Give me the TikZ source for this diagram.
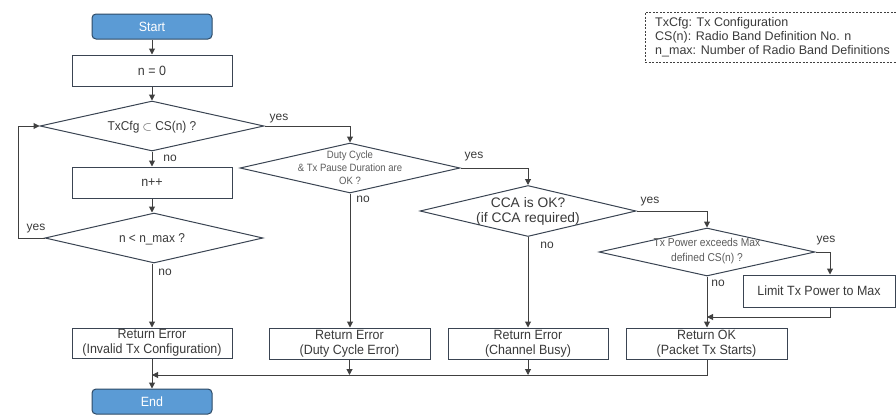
\documentclass[tikz,border=0pt]{standalone}
\usepackage{fontspec}
\setmainfont{Liberation Sans}
\newfontfamily\narrowfont[FakeStretch=0.9]{Liberation Sans}
\newfontfamily\boxfont[FakeStretch=0.93]{Liberation Sans}
\usetikzlibrary{shapes.geometric,arrows.meta}
\definecolor{ln}{HTML}{404040}
\definecolor{bx}{HTML}{3A4452}
\definecolor{tx}{HTML}{3A3A3A}
\definecolor{dtx}{HTML}{5C5C5C}
\definecolor{sfill}{HTML}{5B9BD5}
\definecolor{sbord}{HTML}{2E4A66}
\tikzset{
  box/.style={draw=bx, line width=1pt, fill=white, text=tx, font=\boxfont\fontsize{13.4}{15}\selectfont, align=center, inner sep=0pt, minimum width=160pt, minimum height=31pt},
  term/.style={draw=sbord, line width=1pt, fill=sfill, rounded corners=4pt, text=white, font=\boxfont\fontsize{13.4}{15}\selectfont, minimum width=120pt, minimum height=25pt, inner sep=0pt},
  dia/.style={diamond, draw=bx, line width=1pt, inner sep=0pt, fill=white},
  dtext/.style={text=tx, align=center, inner sep=0pt, font=\boxfont\fontsize{12.8}{15}\selectfont},
  ntext/.style={text=dtx, align=center, inner sep=0pt},
  arr/.style={draw=ln, line width=1pt, -{Triangle[length=6pt,width=6pt]}},
  ln/.style={draw=ln, line width=1pt},
  lbl/.style={text=tx, font=\fontsize{12}{14}\selectfont, inner sep=0pt}
}
\begin{document}
\begin{tikzpicture}[x=1pt,y=-1pt]
\useasboundingbox (0,0) rectangle (896,415);
% legend
\node[draw=ln, dashed, dash pattern=on 2pt off 1.5pt, line width=0.8pt, minimum width=251pt, minimum height=50pt, inner sep=0pt] (legend) at (770.5,37) {};
\node[anchor=west, align=left, text=tx, inner sep=0pt, font=\fontsize{12.5}{14}\selectfont] (legendt) at (655,37) {TxCfg: Tx Configuration\\CS(n): Radio Band Definition No. n\\n\_max: Number of Radio Band Definitions};
% left column
\node[term] (start) at (152,26.5) {Start};
\node[box] (n0) at (152,70.5) {n = 0};
\node[dia, minimum width=224pt, minimum height=50pt] (d1) at (152,126) {};
\node[dtext] (d1t) at (152,127) {TxCfg $\subset$ CS(n) ?};
\node[box] (npp) at (152,182.5) {n++};
\node[dia, minimum width=218pt, minimum height=50pt] (d2) at (154,238) {};
\node[dtext] (d2t) at (152,239) {n < n\_max ?};
\node[box, minimum height=30pt] (err1) at (152,343) {Return Error\\(Invalid Tx Configuration)};
\node[term] (end) at (152,401.5) {End};
% duty
\node[dia, minimum width=220pt, minimum height=50pt] (d3) at (350,168) {};
\node[ntext, font=\narrowfont\fontsize{10.6}{13}\selectfont] (d3t) at (350,168) {Duty Cycle\\\& Tx Pause Duration are\\OK ?};
\node[box, minimum width=161pt] (err2) at (349.5,343.5) {Return Error\\(Duty Cycle Error)};
% CCA
\node[dia, minimum width=216pt, minimum height=51pt] (d4) at (528,211) {};
\node[dtext, font=\fontsize{13.8}{15}\selectfont] (d4t) at (528,211.5) {CCA is OK?\\(if CCA required)};
\node[box] (err3) at (528,343.5) {Return Error\\(Channel Busy)};
% Tx power
\node[dia, minimum width=216pt, minimum height=48pt] (d5) at (707,252) {};
\node[ntext, font=\narrowfont\fontsize{11.4}{15}\selectfont] (d5t) at (707,251.5) {Tx Power exceeds Max\\defined CS(n) ?};
\node[box, minimum width=152pt, minimum height=32pt] (limit) at (819,291) {Limit Tx Power to Max};
\node[box, minimum width=161pt] (ok) at (706.5,343.5) {Return OK\\(Packet Tx Starts)};
% coordinates
\coordinate (loopx) at (18,238);
\coordinate (mj) at (707,317);
\coordinate (bj) at (152,375);
\coordinate (bj2) at (349.5,375);
\coordinate (bj3) at (528,375);
% connectors
\draw[arr] (start) -- (n0);
\draw[arr] (n0) -- (d1.north);
\draw[arr] (d1.south) -- (npp);
\draw[arr] (npp) -- (d2.north -| npp);
\draw[arr] (d2.south -| err1) -- (err1);
\draw[arr] (err1) -- (end);
\draw[arr] (d2.west) -- (loopx) |- (d1.west);
\draw[arr] (d1.east) -| (d3.north);
\draw[arr] (d3.south) -- (err2.north -| d3.south);
\draw[arr] (d3.east) -| (d4.north);
\draw[arr] (d4.south) -- (err3);
\draw[arr] (d4.east) -| (d5.north);
\draw[arr] (d5.south) -- (ok.north -| d5.south);
\draw[arr] (d5.east) -| ([xshift=11pt]limit.north);
\draw[arr] ([xshift=11pt]limit.south) |- (mj);
\draw[arr] (ok.south -| mj) |- (bj);
\draw[arr] (err2.south) -- (bj2);
\draw[arr] (err3) -- (bj3);
% labels
\node[lbl] (y1) at (279,119) {yes};
\node[lbl] (n1) at (170,158) {no};
\node[lbl] (y2) at (36,229) {yes};
\node[lbl] (n2) at (165,272) {no};
\node[lbl] (y3) at (474,157) {yes};
\node[lbl] (n3) at (363,199) {no};
\node[lbl] (y4) at (650,202) {yes};
\node[lbl] (n4) at (547,245) {no};
\node[lbl] (y5) at (826,241) {yes};
\node[lbl] (n5) at (718,283) {no};
\end{tikzpicture}
\end{document}
